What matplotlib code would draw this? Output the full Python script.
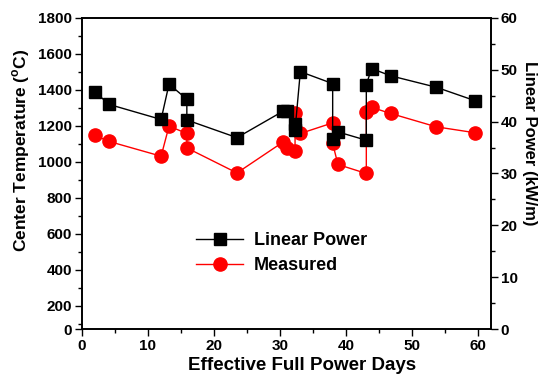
import numpy as np
import matplotlib
matplotlib.use('Agg')
import matplotlib.pyplot as plt
from matplotlib.ticker import MultipleLocator

plt.rcParams['font.family'] = ['Liberation Sans', 'DejaVu Sans']
plt.rcParams['font.weight'] = 'bold'
plt.rcParams['mathtext.fontset'] = 'custom'
plt.rcParams['mathtext.bf'] = 'Liberation Sans:bold'
plt.rcParams['mathtext.rm'] = 'Liberation Sans:bold'

# effective full power days
efpd = [2.0, 4.1, 12.0, 13.2, 15.9, 15.9, 23.5, 30.5, 31.1, 32.3, 32.3, 33.1,
        38.0, 38.0, 38.8, 43.1, 43.1, 43.9, 46.8, 53.7, 59.6]
# linear power (kW/m), right axis
power = [45.7, 43.3, 40.4, 47.2, 44.3, 40.3, 36.9, 42.0, 42.0, 39.5, 38.4, 49.6,
         47.3, 36.6, 38.0, 36.4, 47.1, 50.2, 48.8, 46.6, 44.0]
# measured center temperature (C), left axis
temp = [1146, 1113, 1031, 1198, 1157, 1077, 938, 1110, 1077, 1060, 1268, 1157,
        1216, 1102, 985, 935, 1274, 1302, 1268, 1194, 1161]

temp_ticks = [0, 200, 400, 600, 800, 1000, 1200, 1400, 1600, 1800]
temp_bottom = 70  # axis starts a little above zero in the original

fig = plt.figure(figsize=(5.39, 3.83), dpi=100)
ax = fig.add_axes([0.152, 0.140, 0.759, 0.814])
ax2 = ax.twinx()

l2, = ax.plot(efpd, temp, '-o', color='red', lw=1, ms=9.5, mec='red', label='Measured')
l1, = ax2.plot(efpd, power, '-s', color='black', lw=1, ms=9, label='Linear Power')

ax.set_xlim(0, 62)
ax.set_ylim(temp_bottom, 1800)
ax2.set_ylim(0, 60)

ax.set_xticks([0, 10, 20, 30, 40, 50, 60])
ax.xaxis.set_minor_locator(MultipleLocator(5))
ax.set_yticks([temp_bottom] + temp_ticks[1:])
ax.set_yticklabels([str(t) for t in temp_ticks])
ax.yaxis.set_minor_locator(MultipleLocator(100))
ax2.set_yticks([0, 10, 20, 30, 40, 50, 60])
ax2.yaxis.set_minor_locator(MultipleLocator(5))

for a in (ax, ax2):
    a.tick_params(which='major', direction='out', length=5, width=1, labelsize=11, pad=2)
    a.tick_params(which='minor', direction='out', length=3, width=1)
    for s in a.spines.values():
        s.set_linewidth(1.2)
ax.tick_params(top=False, which='both')

# axis titles placed where the original puts them (slightly off-centre)
fig.text(302 / 539, 1 - 366 / 383, 'Effective Full Power Days', fontsize=13.5,
         fontweight='bold', ha='center', va='center')
fig.text(21 / 539, 1 - 150 / 383, 'Center Temperature ($^{\\mathbf{o}}$C)', fontsize=12.5,
         fontweight='bold', ha='center', va='center', rotation=90)
fig.text(529 / 539, 1 - 143 / 383, 'Linear Power (kW/m)', fontsize=12,
         fontweight='bold', ha='center', va='center', rotation=270)

ax2.legend([l1, l2], ['Linear Power', 'Measured'], loc='center left',
           bbox_to_anchor=(0.24, 0.245), frameon=False, fontsize=13,
           handlelength=2.6, handletextpad=0.6, labelspacing=0.45)

fig.savefig('out.png', dpi=100)
